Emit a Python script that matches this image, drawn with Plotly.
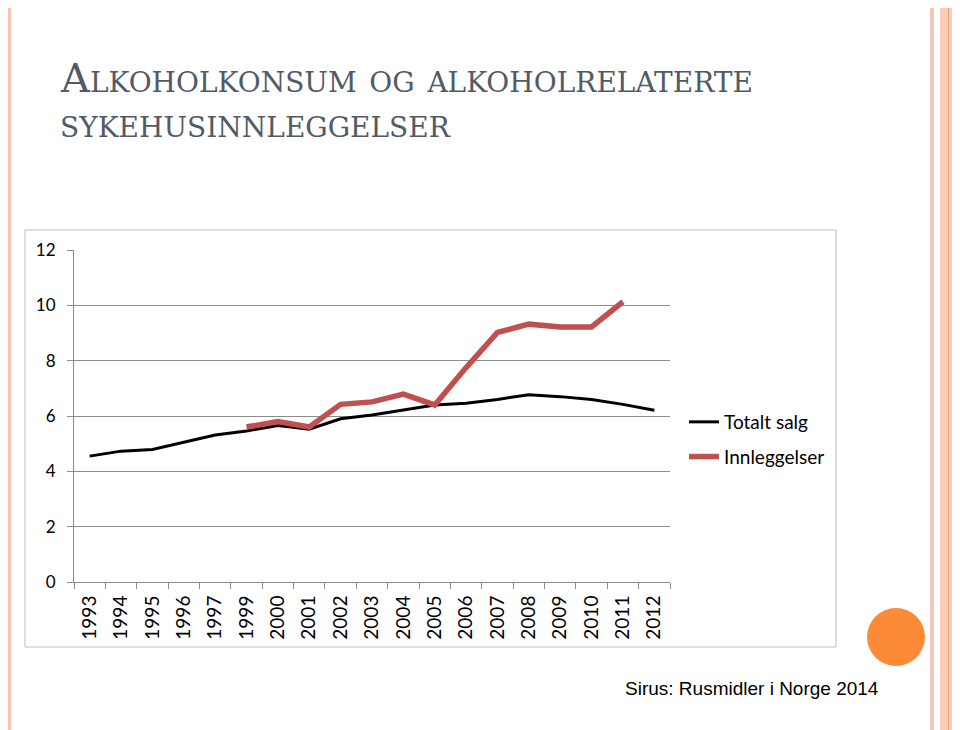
import plotly.graph_objects as go

years = ["1993", "1994", "1995", "1996", "1997", "1999", "2000", "2001", "2002", "2003",
         "2004", "2005", "2006", "2007", "2008", "2009", "2010", "2011", "2012"]
totalt_salg = [4.55, 4.73, 4.79, 5.06, 5.31, 5.46, 5.66, 5.52, 5.90, 6.04,
               6.22, 6.40, 6.46, 6.60, 6.77, 6.70, 6.60, 6.42, 6.21]
innleggelser = [None, None, None, None, None, 5.60, 5.80, 5.60, 6.42, 6.51,
                6.79, 6.40, 7.75, 9.02, 9.32, 9.22, 9.22, 10.13, None]
y_ticks = [0, 2, 4, 6, 8, 10, 12]

# page offset (body margin) compensation
OFF = 8
W, H = 960, 730
# plot area in screen pixels
SL, SR, ST, SB = 74, 670, 250, 582
L, R, T, B = SL - OFF, SR - OFF, ST - OFF, SB - OFF


def px(x):
    return (x - OFF - L) / (R - L)


def py(y):
    return (B - (y - OFF)) / (B - T)


fig = go.Figure()
fig.add_trace(go.Scatter(x=years, y=totalt_salg, mode="lines", name="Totalt salg",
                         line=dict(color="#000000", width=3), legendgroup="a"))
fig.add_trace(go.Scatter(x=years, y=innleggelser, mode="lines", name="Innleggelser",
                         line=dict(color="#C0504D", width=5.5), legendgroup="b"))

shapes = [
    # chart box
    dict(type="rect", xref="paper", yref="paper", x0=px(25), x1=px(836), y0=py(647), y1=py(230),
         line=dict(color="#BDBDBD", width=1), fillcolor="rgba(0,0,0,0)", layer="below"),
    # left stripe
    dict(type="rect", xref="paper", yref="paper", x0=px(5), x1=px(11), y0=py(740), y1=py(0),
         line=dict(width=0), fillcolor="#F5C4B2", layer="below"),
    # right stripes
    dict(type="rect", xref="paper", yref="paper", x0=px(930), x1=px(934), y0=py(740), y1=py(0),
         line=dict(width=0), fillcolor="#F5C6B5", layer="below"),
    dict(type="rect", xref="paper", yref="paper", x0=px(940), x1=px(970), y0=py(740), y1=py(0),
         line=dict(width=0), fillcolor="#FBCDB8", layer="below"),
    dict(type="line", xref="paper", yref="paper", x0=px(948.5), x1=px(948.5), y0=py(740), y1=py(0),
         line=dict(color="#E9A27E", width=1), layer="below"),
    # orange circle
    dict(type="circle", xref="paper", yref="paper", x0=px(867), x1=px(925), y0=py(666), y1=py(608),
         line=dict(width=0), fillcolor="#FD8A36", layer="above"),
]

title_font = dict(family="DejaVu Serif", size=40, color="#525A66", variant="small-caps")

fig.update_layout(
    width=W, height=H,
    margin=dict(l=L, r=W - R, t=T, b=H - B, autoexpand=False),
    paper_bgcolor="white", plot_bgcolor="white",
    shapes=shapes,
    showlegend=True,
    legend=dict(x=px(684), xanchor="left", y=py(403), yanchor="top",
                font=dict(family="Lato", size=19, color="#000000"),
                bgcolor="rgba(0,0,0,0)", itemwidth=30, tracegroupgap=7,
                traceorder="grouped"),
    annotations=[
        dict(text="Alkoholkonsum og alkoholrelaterte", xref="paper", yref="paper",
             x=px(58), y=py(103), xanchor="left", yanchor="bottom", showarrow=False,
             font=title_font),
        dict(text="sykehusinnleggelser", xref="paper", yref="paper",
             x=px(58), y=py(148), xanchor="left", yanchor="bottom", showarrow=False,
             font=title_font),
        dict(text="Sirus: Rusmidler i Norge 2014", xref="paper", yref="paper",
             x=px(752), y=py(688), xanchor="center", yanchor="middle", showarrow=False,
             font=dict(family="Liberation Sans", size=19, color="#000000")),
    ],
)

fig.update_xaxes(type="category", categoryorder="array", categoryarray=years,
                 tickangle=-90, tickfont=dict(family="Lato", size=19, color="#000000"),
                 showline=True, linecolor="#8C8C8C", linewidth=1, showgrid=False,
                 ticks="outside", tickson="boundaries", ticklen=6, tickcolor="#8C8C8C",
                 ticklabelstandoff=5, range=[-0.5, len(years) - 0.5])
fig.update_yaxes(range=[0, 12], tickvals=y_ticks, ticktext=[str(v) for v in y_ticks],
                 tickfont=dict(family="Lato", size=17, color="#000000"),
                 showline=True, linecolor="#8C8C8C", linewidth=1,
                 showgrid=True, gridcolor="#8C8C8C", gridwidth=1,
                 ticks="outside", ticklen=6, tickcolor="#8C8C8C", zeroline=False,
                 ticklabelstandoff=8)

fig.write_html("out.html")
